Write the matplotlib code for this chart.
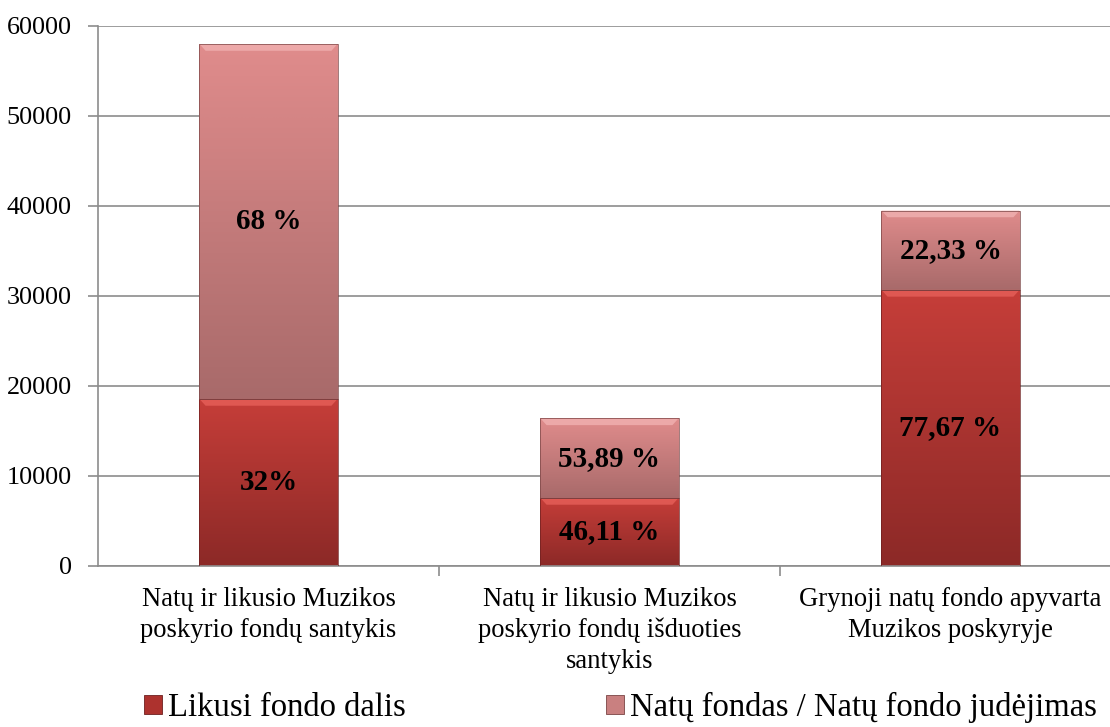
import numpy as np
import matplotlib.pyplot as plt
from matplotlib.patches import Polygon, Rectangle
from matplotlib.colors import LinearSegmentedColormap

# chart data
categories = ['Natų ir likusio Muzikos\nposkyrio fondų santykis',
              'Natų ir likusio Muzikos\nposkyrio fondų išduoties\nsantykis',
              'Grynoji natų fondo apyvarta\nMuzikos poskyryje']
likusi = [18560, 7560, 30680]
natu = [39440, 8840, 8820]
likusi_labels = ['32%', '46,11 %', '77,67 %']
natu_labels = ['68 %', '53,89 %', '22,33 %']
series_names = ['Likusi fondo dalis', 'Natų fondas / Natų fondo judėjimas']
yticks = [0, 10000, 20000, 30000, 40000, 50000, 60000]

plt.rcParams['font.family'] = ['Liberation Serif', 'DejaVu Serif']

GRID = '#8c8c8c'
RED_TOP, RED_BOT, RED_HI = '#c63e39', '#8c2927', '#e9625c'
PINK_TOP, PINK_BOT, PINK_HI = '#e08c8c', '#a86a6a', '#f2b4b4'


def fill_gradient(ax, bars, top_color, bottom_color, hi_color):
    """Replace flat bar fill with a vertical gradient and a bevel at the top"""
    cmap = LinearSegmentedColormap.from_list('g', [bottom_color, top_color])
    grad = np.linspace(0, 1, 256).reshape(-1, 1)
    for b in bars:
        x0, y0 = b.get_x(), b.get_y()
        w, h = b.get_width(), b.get_height()
        im = ax.imshow(grad, cmap=cmap, aspect='auto', origin='lower',
                       extent=[x0, x0 + w, y0, y0 + h], zorder=2)
        im.set_clip_path(b)
        b.set_facecolor('none')
        # bevel highlight on top edge
        dx, dy = 0.018, 750
        ax.add_patch(Polygon([[x0, y0 + h], [x0 + w, y0 + h],
                              [x0 + w - dx, y0 + h - dy], [x0 + dx, y0 + h - dy]],
                             closed=True, facecolor=hi_color, edgecolor='none',
                             alpha=0.75, zorder=2.5))


fig = plt.figure(figsize=(11.10, 7.27), dpi=100)
ax = fig.add_axes([98 / 1110, 1 - 566 / 727, 1023 / 1110, 540 / 727])

x = np.arange(len(categories))
width = 0.405
b1 = ax.bar(x, likusi, width, color=RED_TOP, edgecolor='#6e2020', linewidth=0.5, zorder=3)
b2 = ax.bar(x, natu, width, bottom=likusi, color=PINK_TOP, edgecolor='#7a4545',
            linewidth=0.5, zorder=3)
fill_gradient(ax, b1, RED_TOP, RED_BOT, RED_HI)
fill_gradient(ax, b2, PINK_TOP, PINK_BOT, PINK_HI)

for i in range(len(categories)):
    ax.text(x[i], likusi[i] / 2, likusi_labels[i], ha='center', va='center',
            fontsize=21, fontweight='bold', zorder=5)
    ax.text(x[i], likusi[i] + natu[i] / 2, natu_labels[i], ha='center', va='center',
            fontsize=21, fontweight='bold', zorder=5)

ax.set_xlim(-0.5, 2.5)
ax.set_ylim(0, 60000)
ax.set_yticks(yticks)
ax.set_yticklabels([str(v) for v in yticks], fontsize=18.8)
ax.yaxis.grid(True, color=GRID, linewidth=1.2)
ax.set_axisbelow(True)

ax.set_xticks(x)
ax.set_xticklabels(categories, fontsize=19.2, linespacing=1.3)
ax.set_xticks([0.5, 1.5], minor=True)
ax.tick_params(axis='x', which='major', length=0, pad=15)
ax.tick_params(axis='x', which='minor', length=7, color=GRID, width=1.2)
ax.tick_params(axis='y', length=7, color=GRID, width=1.2, pad=12)

for side in ['top', 'right']:
    ax.spines[side].set_visible(False)
ax.spines['left'].set_color(GRID)
ax.spines['left'].set_linewidth(1.2)
ax.spines['bottom'].set_color(GRID)
ax.spines['bottom'].set_linewidth(1.2)

handles = [Rectangle((0, 0), 1, 1, facecolor='#ad322e', edgecolor='#6e2020', linewidth=0.6),
           Rectangle((0, 0), 1, 1, facecolor='#c98080', edgecolor='#7a4545', linewidth=0.6)]
fig.legend(handles, series_names, loc='center', bbox_to_anchor=(0.559, 0.027),
           ncol=2, frameon=False, fontsize=23.5, handlelength=0.55, handleheight=0.55,
           handletextpad=0.18, columnspacing=6.15)

plt.savefig('out.png', dpi=100)
plt.close()
